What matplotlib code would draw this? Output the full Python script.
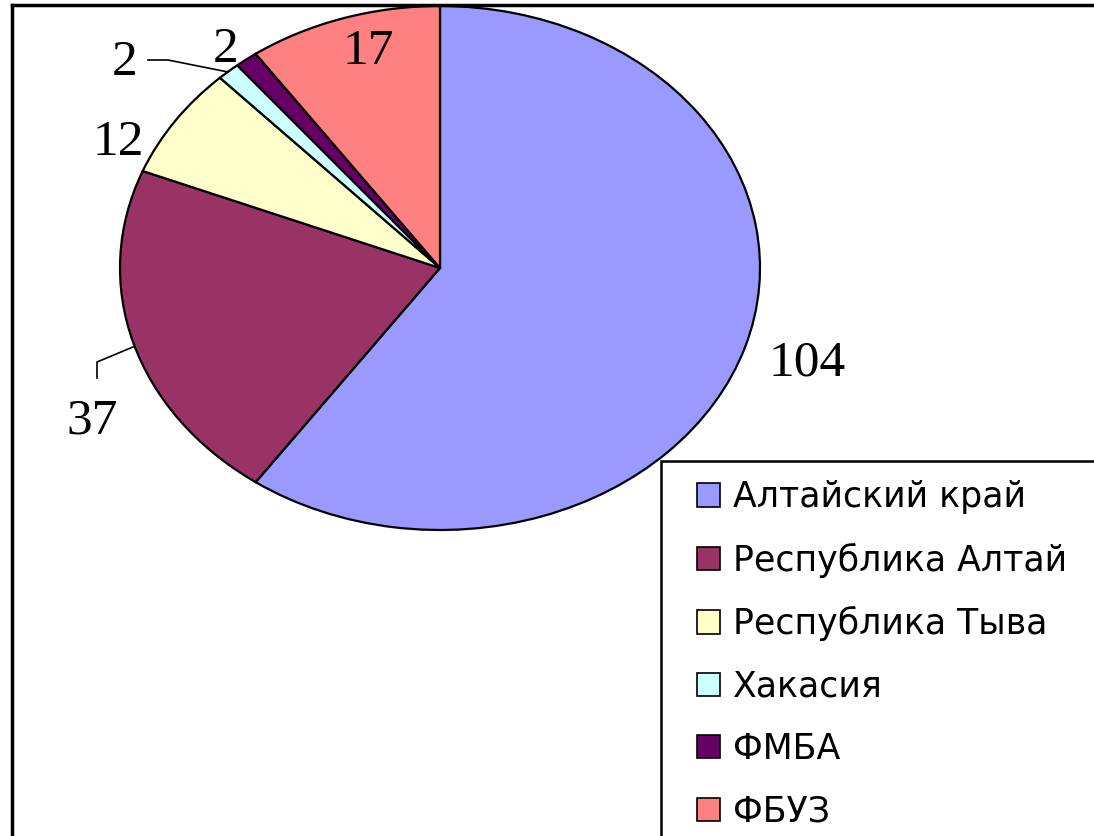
import matplotlib.pyplot as plt
from matplotlib.patches import Rectangle
from matplotlib.lines import Line2D

regions = ['Алтайский край', 'Республика Алтай', 'Республика Тыва',
           'Хакасия', 'ФМБА', 'ФБУЗ']
counts = [104, 37, 12, 2, 2, 17]
colors = ['#9999FF', '#993366', '#FFFFCC', '#CCFFFF', '#660066', '#FF8080']

W, H = 1094, 836
fig = plt.figure(figsize=(W / 100, H / 100), dpi=100)

# pie axes: unit circle stretched onto the ellipse of the original
cx, cy, rx, ry = 440, 268, 320, 262
ax = fig.add_axes([(cx - rx) / W, 1 - (cy + ry) / H, 2 * rx / W, 2 * ry / H])
wedges, _ = ax.pie(counts, colors=colors, startangle=90, counterclock=False,
                   radius=1.0, wedgeprops=dict(edgecolor='black', linewidth=1.6))
ax.set_aspect('auto')
ax.set_xlim(-1, 1)
ax.set_ylim(-1, 1)
ax.axis('off')


def px(x, y):
    # figure pixel (from top-left) -> pie data coords
    return (x - cx) / rx, (cy - y) / ry


lab_pos = [(807, 363), (92, 421), (118, 143), (125, 63), (226, 50), (368, 52)]
for v, (x, y) in zip(counts, lab_pos):
    ax.text(*px(x, y), str(v), ha='center', va='center', fontsize=37,
            family='Liberation Serif', clip_on=False)

# leader lines
for pts in ([(133, 347), (97, 362), (97, 378)],
            [(148, 60), (168, 60), (228, 72)]):
    xs, ys = zip(*[px(x, y) for x, y in pts])
    ax.plot(xs, ys, color='black', lw=1.2, clip_on=False)

# chart border (only top and left visible)
fig.add_artist(Line2D([12 / W, 1.0], [1 - 5 / H, 1 - 5 / H], color='black', lw=2.5))
fig.add_artist(Line2D([12 / W, 12 / W], [0, 1 - 5 / H], color='black', lw=2.5))

# legend box runs off the right and bottom edges
fig.add_artist(Rectangle((661 / W, -0.05), 0.6, 1.05 - 461 / H,
                         transform=fig.transFigure, facecolor='white',
                         edgecolor='black', lw=1.8))

handles = [Rectangle((0, 0), 1, 1, facecolor=c, edgecolor='black', lw=1.2) for c in colors]
leg = fig.legend(handles, regions, loc='upper left',
                 bbox_to_anchor=(697 / W, 1 - 480 / H), borderaxespad=0,
                 prop=dict(family='DejaVu Sans', size=25),
                 handlelength=0.66, handleheight=0.66, handletextpad=0.37,
                 labelspacing=0.82, borderpad=0, frameon=False)

fig.savefig('out.png', dpi=100)
